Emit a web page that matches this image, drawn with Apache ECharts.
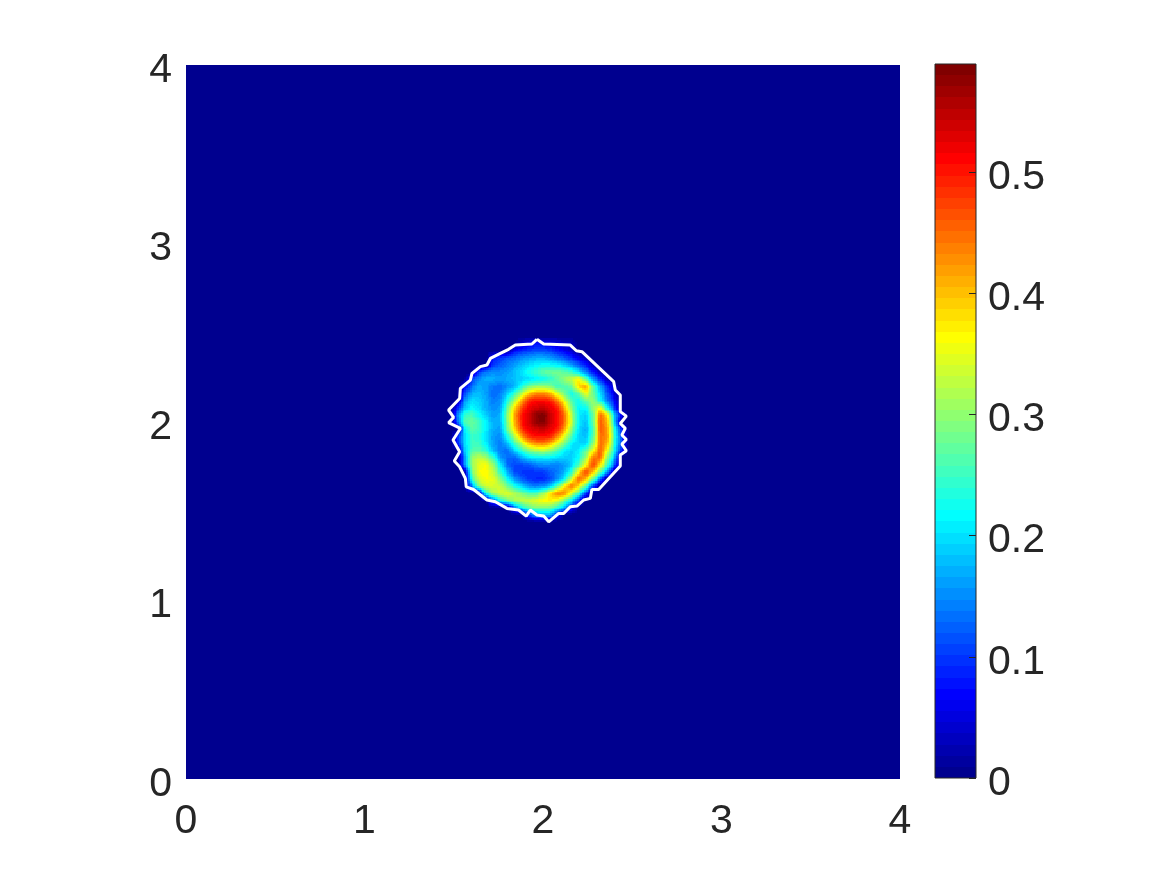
<!DOCTYPE html>
<html>
<head>
<meta charset="utf-8">
<title>Field</title>
<script src="https://cdn.jsdelivr.net/npm/echarts@6/dist/echarts.min.js"></script>
<style>
  html, body { margin: 0; background: #fff; }
  #chart { width: 1167px; height: 875px; }
</style>
</head>
<body>
<div id="chart"></div>
<script>
// mesh nodes around the blob, everything outside is 0
const xNodes = [1.44,1.48,1.52,1.56,1.60,1.64,1.68,1.72,1.76,1.80,1.84,1.88,1.92,1.96,2.00,2.04,2.08,2.12,2.16,2.20,2.24,2.28,2.32,2.36,2.40,2.44,2.48];
const yNodes = [2.48,2.44,2.40,2.36,2.32,2.28,2.24,2.20,2.16,2.12,2.08,2.04,2.00,1.96,1.92,1.88,1.84,1.80,1.76,1.72,1.68,1.64,1.60,1.56,1.52,1.48,1.44];

// values, top row first
const zRows = [
  [0,0,0,0,0,0,0,0,0,0,0,0,0,0,0,0,0,0,0,0,0,0,0,0,0,0,0],
  [0,0,0,0,0,0,0,0,0,0,0,.04,.06,.07,.07,.06,.05,.04,.03,0,0,0,0,0,0,0,0],
  [0,0,0,0,0,0,0,0,0,0,.07,.09,.10,.11,.11,.10,.08,.06,.04,0,0,0,0,0,0,0,0],
  [0,0,0,0,0,0,0,.08,.10,.12,.13,.15,.16,.17,.17,.16,.14,.12,.09,.06,.03,0,0,0,0,0,0],
  [0,0,0,0,0,0,0,.10,.12,.14,.16,.18,.20,.21,.22,.22,.21,.19,.16,.12,.08,.03,0,0,0,0,0],
  [0,0,0,0,0,.10,.14,.15,.15,.16,.18,.20,.23,.25,.27,.28,.28,.27,.25,.20,.14,.08,.03,0,0,0,0],
  [0,0,0,0,.10,.15,.17,.17,.16,.17,.18,.19,.20,.21,.22,.24,.27,.30,.33,.37,.27,.16,.09,.03,0,0,0],
  [0,0,0,.06,.13,.17,.16,.14,.13,.15,.17,.23,.28,.30,.30,.29,.25,.26,.28,.39,.42,.27,.17,.09,.03,0,0],
  [0,0,0,.10,.17,.18,.16,.13,.14,.19,.24,.32,.39,.425,.43,.405,.34,.28,.22,.27,.36,.28,.20,.12,.05,0,0],
  [0,0,0,.15,.20,.19,.17,.14,.15,.23,.31,.41,.49,.505,.505,.495,.44,.35,.26,.22,.28,.30,.22,.14,.07,0,0],
  [0,0,.08,.18,.22,.20,.17,.15,.16,.27,.38,.47,.52,.535,.54,.525,.50,.41,.29,.21,.22,.30,.36,.22,.10,0,0],
  [0,0,.14,.24,.26,.22,.19,.16,.17,.30,.41,.50,.535,.575,.59,.54,.51,.45,.32,.21,.19,.27,.45,.38,.19,.06,0],
  [0,0,.12,.26,.28,.25,.21,.17,.17,.29,.40,.50,.535,.575,.585,.54,.51,.45,.33,.21,.18,.27,.46,.41,.20,0,0],
  [0,0,0,.20,.27,.25,.21,.17,.16,.28,.38,.48,.52,.535,.54,.525,.50,.42,.30,.20,.17,.25,.46,.42,.24,.08,0],
  [0,0,.08,.19,.25,.24,.20,.16,.15,.23,.32,.42,.49,.505,.505,.50,.44,.35,.26,.19,.18,.26,.45,.43,.25,.10,0],
  [0,0,.08,.19,.25,.25,.21,.16,.14,.18,.25,.33,.40,.435,.44,.41,.35,.29,.21,.19,.19,.29,.45,.41,.24,.11,0],
  [0,0,0,.18,.26,.27,.24,.18,.14,.13,.19,.24,.29,.31,.32,.30,.26,.21,.19,.21,.27,.36,.46,.36,.22,.07,0],
  [0,0,0,.14,.30,.33,.31,.25,.16,.13,.12,.17,.20,.21,.21,.21,.20,.19,.19,.22,.31,.44,.46,.30,.18,0,0],
  [0,0,0,.14,.30,.35,.36,.31,.21,.13,.11,.11,.12,.14,.15,.15,.14,.16,.19,.26,.36,.48,.38,.26,.12,0,0],
  [0,0,0,0,.28,.36,.365,.33,.25,.17,.11,.10,.09,.10,.10,.12,.14,.17,.24,.37,.48,.40,.28,.16,0,0,0],
  [0,0,0,0,.24,.34,.36,.35,.30,.22,.16,.12,.10,.09,.09,.11,.15,.21,.34,.46,.40,.28,.13,0,0,0,0],
  [0,0,0,0,.14,.30,.34,.34,.33,.28,.23,.19,.15,.14,.15,.18,.26,.37,.45,.38,.27,.11,0,0,0,0,0],
  [0,0,0,0,0,0,.24,.31,.34,.35,.32,.29,.26,.26,.30,.38,.44,.44,.34,.25,.10,0,0,0,0,0,0],
  [0,0,0,0,0,0,0,.12,.22,.28,.31,.33,.34,.35,.37,.37,.35,.28,.20,.09,0,0,0,0,0,0,0],
  [0,0,0,0,0,0,0,0,0,0,.13,.22,.27,.29,.29,.28,.24,.18,.08,0,0,0,0,0,0,0,0],
  [0,0,0,0,0,0,0,0,0,0,0,0,.10,.16,.18,.17,.08,0,0,0,0,0,0,0,0,0,0],
  [0,0,0,0,0,0,0,0,0,0,0,0,0,0,0,0,0,0,0,0,0,0,0,0,0,0,0]
];

// white outline of the blob
const contourX = [1.966,2.004,2.153,2.187,2.218,2.396,2.405,2.433,2.433,2.467,2.433,2.461,2.442,2.467,2.442,2.467,2.433,2.433,2.312,2.274,2.265,2.228,2.190,2.153,2.116,2.088,2.032,2.004,1.966,1.929,1.906,1.863,1.798,1.733,1.686,1.611,1.570,1.565,1.533,1.503,1.533,1.496,1.537,1.471,1.499,1.471,1.533,1.537,1.593,1.602,1.649,1.686,1.705,1.761,1.807,1.845,1.938,1.966];
const contourY = [2.463,2.437,2.431,2.399,2.394,2.226,2.179,2.151,2.058,2.033,1.992,1.964,1.927,1.902,1.876,1.839,1.815,1.753,1.622,1.622,1.572,1.563,1.529,1.525,1.488,1.488,1.441,1.473,1.479,1.507,1.473,1.507,1.516,1.553,1.563,1.622,1.637,1.684,1.749,1.781,1.833,1.899,1.964,1.996,2.026,2.067,2.132,2.188,2.235,2.272,2.310,2.319,2.356,2.384,2.407,2.431,2.437,2.463];

const zMax = 0.589;
const levels = 64;
const axisTicks = [0, 1, 2, 3, 4];
const textColor = "#262626";

// same 64 step jet as the colorbar
function jetLevel(i) {
  const t = (i + 1) / levels;
  const clip = function (a) { return Math.round(255 * Math.max(0, Math.min(1, a))); };
  return "rgb(" + clip(Math.min(4 * t - 1.5, 4.5 - 4 * t)) + "," +
    clip(Math.min(4 * t - 0.5, 3.5 - 4 * t)) + "," +
    clip(Math.min(4 * t + 0.5, 2.5 - 4 * t)) + ")";
}
function jet(v) {
  return jetLevel(Math.min(levels - 1, Math.floor((v / zMax) * levels)));
}

const cellData = [];
for (let r = 0; r < yNodes.length - 1; r++) {
  for (let c = 0; c < xNodes.length - 1; c++) {
    const a = zRows[r + 1][c], b = zRows[r + 1][c + 1], d = zRows[r][c], e = zRows[r][c + 1];
    if (a + b + d + e > 0) {
      cellData.push([xNodes[c], xNodes[c + 1], yNodes[r + 1], yNodes[r], a, b, d, e]);
    }
  }
}

const barData = [];
for (let i = 0; i < levels; i++) {
  barData.push([0, 1, (i / levels) * zMax, ((i + 1) / levels) * zMax, i]);
}

// one cell with interpolated shading, like shading interp in the original
function renderCell(params, api) {
  const x0 = api.value(0), x1 = api.value(1), y0 = api.value(2), y1 = api.value(3);
  const a = api.value(4), b = api.value(5), d = api.value(6), e = api.value(7);
  const sub = 4;
  const children = [];
  for (let i = 0; i < sub; i++) {
    for (let j = 0; j < sub; j++) {
      const u = (i + 0.5) / sub, w = (j + 0.5) / sub;
      const v = (1 - w) * ((1 - u) * a + u * b) + w * ((1 - u) * d + u * e);
      const p0 = api.coord([x0 + ((x1 - x0) * i) / sub, y0 + ((y1 - y0) * (j + 1)) / sub]);
      const p1 = api.coord([x0 + ((x1 - x0) * (i + 1)) / sub, y0 + ((y1 - y0) * j) / sub]);
      const left = Math.round(p0[0]), top = Math.round(p0[1]);
      children.push({
        type: "rect",
        shape: { x: left, y: top, width: Math.round(p1[0]) - left, height: Math.round(p1[1]) - top },
        style: { fill: jet(v) },
      });
    }
  }
  return { type: "group", children: children };
}

function renderBand(params, api) {
  const p0 = api.coord([api.value(0), api.value(3)]);
  const p1 = api.coord([api.value(1), api.value(2)]);
  return {
    type: "rect",
    shape: { x: p0[0], y: Math.round(p0[1]), width: p1[0] - p0[0], height: Math.round(p1[1]) - Math.round(p0[1]) },
    style: { fill: jetLevel(api.value(4)) },
  };
}

const labelStyle = {
  color: textColor,
  fontFamily: "Liberation Sans",
  fontSize: 41,
};

const eChart = echarts.init(document.getElementById("chart"), null, { renderer: "canvas" });
eChart.setOption({
  animation: false,
  backgroundColor: "#fff",
  grid: [
    { left: 186, top: 65, width: 714, height: 714, show: true, backgroundColor: jetLevel(0), borderWidth: 0 },
    { left: 935, top: 64, width: 41, height: 714, show: true, z: 3, backgroundColor: "transparent", borderColor: textColor, borderWidth: 1 },
  ],
  xAxis: [
    {
      type: "value", gridIndex: 0, min: axisTicks[0], max: axisTicks[4], interval: 1,
      axisLine: { show: false }, axisTick: { show: false }, splitLine: { show: false },
      axisLabel: Object.assign({ margin: 22 }, labelStyle),
    },
    { type: "value", gridIndex: 1, min: 0, max: 1, show: false },
  ],
  yAxis: [
    {
      type: "value", gridIndex: 0, min: axisTicks[0], max: axisTicks[4], interval: 1,
      axisLine: { show: false }, axisTick: { show: false }, splitLine: { show: false },
      axisLabel: Object.assign({ margin: 14, verticalAlign: "top", padding: [-15, 0, 0, 0] }, labelStyle),
    },
    {
      type: "value", gridIndex: 1, min: 0, max: zMax, interval: 0.1, position: "right", z: 5,
      axisLine: { show: false, onZero: false },
      axisTick: { show: true, inside: true, length: 7, lineStyle: { color: textColor, width: 1 } },
      splitLine: { show: false },
      axisLabel: Object.assign({ margin: 12, showMaxLabel: false, verticalAlign: "top", padding: [-15, 0, 0, 0] }, labelStyle),
    },
  ],
  series: [
    { type: "custom", xAxisIndex: 0, yAxisIndex: 0, silent: true, renderItem: renderCell, data: cellData, z: 2 },
    {
      type: "line", xAxisIndex: 0, yAxisIndex: 0, silent: true, showSymbol: false, z: 4,
      lineStyle: { color: "#fff", width: 3 },
      data: contourX.map(function (x, i) { return [x, contourY[i]]; }),
    },
    { type: "custom", xAxisIndex: 1, yAxisIndex: 1, silent: true, renderItem: renderBand, data: barData, z: 1 },
  ],
});
window.addEventListener("resize", function () {
  eChart.resize();
});
</script>
</body>
</html>
